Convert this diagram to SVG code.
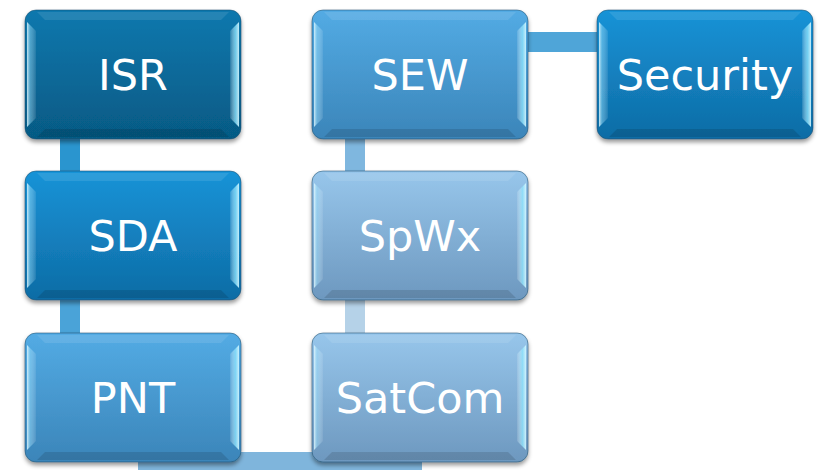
<svg xmlns="http://www.w3.org/2000/svg" xmlns:xlink="http://www.w3.org/1999/xlink" width="818" height="470" viewBox="0 0 818 470">
<style>
.lbl{font-family:"DejaVu Sans","Verdana",sans-serif;font-size:43px;fill:#ffffff;text-anchor:middle}
.box{stroke:#1d4f6e;stroke-opacity:0.55;stroke-width:1}
</style>
<defs>
<filter id="sh" x="-10%" y="-10%" width="120%" height="130%">
<feDropShadow dx="0" dy="3" stdDeviation="2" flood-color="#000" flood-opacity="0.4"/>
</filter>
<linearGradient id="gIsr" x1="0" y1="0" x2="0" y2="1"><stop offset="0" stop-color="#0b78ae"/><stop offset="1" stop-color="#065a84"/></linearGradient>
<linearGradient id="gSda" x1="0" y1="0" x2="0" y2="1"><stop offset="0" stop-color="#1893d7"/><stop offset="1" stop-color="#0e6ca5"/></linearGradient>
<linearGradient id="gMid" x1="0" y1="0" x2="0" y2="1"><stop offset="0" stop-color="#53abe4"/><stop offset="1" stop-color="#3b85b9"/></linearGradient>
<linearGradient id="gLt" x1="0" y1="0" x2="0" y2="1"><stop offset="0" stop-color="#97c6eb"/><stop offset="1" stop-color="#6d98bf"/></linearGradient>
<linearGradient id="gL" x1="0" y1="0" x2="1" y2="0"><stop offset="0" stop-color="#e8fbff" stop-opacity="0.85"/><stop offset="0.35" stop-color="#9fe4ff" stop-opacity="0.45"/><stop offset="1" stop-color="#ffffff" stop-opacity="0.08"/></linearGradient>
<linearGradient id="gR" x1="0" y1="0" x2="1" y2="0"><stop offset="0" stop-color="#ffffff" stop-opacity="0.1"/><stop offset="0.6" stop-color="#8fe6ff" stop-opacity="0.75"/><stop offset="1" stop-color="#d8f8ff" stop-opacity="0.9"/></linearGradient>
<g id="bevel">
<polygon points="2,12 11,21 11,108 2,117" fill="url(#gL)"/>
<polygon points="214,12 205,21 205,108 214,117" fill="url(#gR)"/>
<polygon points="12,2 204,2 196,10 20,10" fill="#ffffff" fill-opacity="0.1"/>
<polygon points="12,127 204,127 196,119 20,119" fill="#000000" fill-opacity="0.12"/>
</g>
</defs>
<rect width="818" height="470" fill="#ffffff"/>
<g id="connectors">
<rect x="60" y="130" width="20" height="50" fill="#2a95cf"/>
<rect x="60" y="290" width="20" height="52" fill="#4aa3d8"/>
<rect x="345" y="130" width="20" height="50" fill="#7fb7df"/>
<rect x="345" y="290" width="20" height="52" fill="#b5d2e8"/>
<rect x="520" y="32" width="85" height="20" fill="#4fa5d8"/>
<rect x="138" y="452" width="284" height="20" fill="#7fb5dc"/>
</g>
<g id="isr">
<rect class="box" x="25" y="10" width="216" height="129" rx="11" fill="url(#gIsr)" filter="url(#sh)"/>
<use href="#bevel" x="25" y="10"/>
<text class="lbl" x="133" y="90">ISR</text>
</g>
<g id="sda">
<rect class="box" x="25" y="171" width="216" height="129" rx="11" fill="url(#gSda)" filter="url(#sh)"/>
<use href="#bevel" x="25" y="171"/>
<text class="lbl" x="133" y="251">SDA</text>
</g>
<g id="pnt">
<rect class="box" x="25" y="333" width="216" height="129" rx="11" fill="url(#gMid)" filter="url(#sh)"/>
<use href="#bevel" x="25" y="333"/>
<text class="lbl" x="133" y="413">PNT</text>
</g>
<g id="sew">
<rect class="box" x="312" y="10" width="216" height="129" rx="11" fill="url(#gMid)" filter="url(#sh)"/>
<use href="#bevel" x="312" y="10"/>
<text class="lbl" x="420" y="90">SEW</text>
</g>
<g id="spwx">
<rect class="box" x="312" y="171" width="216" height="129" rx="11" fill="url(#gLt)" filter="url(#sh)"/>
<use href="#bevel" x="312" y="171"/>
<text class="lbl" x="420" y="251">SpWx</text>
</g>
<g id="satcom">
<rect class="box" x="312" y="333" width="216" height="129" rx="11" fill="url(#gLt)" filter="url(#sh)"/>
<use href="#bevel" x="312" y="333"/>
<text class="lbl" x="420" y="413">SatCom</text>
</g>
<g id="security">
<rect class="box" x="597" y="10" width="216" height="129" rx="11" fill="url(#gSda)" filter="url(#sh)"/>
<use href="#bevel" x="597" y="10"/>
<text class="lbl" x="705" y="90">Security</text>
</g>
</svg>
